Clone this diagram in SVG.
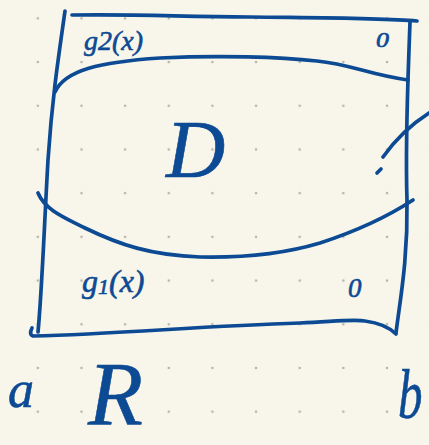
<svg xmlns="http://www.w3.org/2000/svg" width="429" height="445" viewBox="0 0 429 445">
<defs>
<pattern id="dots" patternUnits="userSpaceOnUse" x="16" y="-3.5" width="43.65" height="43.7">
<circle cx="21.8" cy="21.85" r="1.3" fill="#b5b3aa"/>
</pattern>
<style>
.ink{fill:none;stroke:#0d4a94;stroke-width:3.7;stroke-linecap:round;stroke-linejoin:round}
.t{fill:#0d4a94;stroke:#0d4a94;stroke-width:0.6;font-family:"Liberation Serif","DejaVu Serif",serif;font-style:italic}
</style>
</defs>
<rect width="429" height="445" fill="#f8f6eb"/>
<rect width="429" height="445" fill="url(#dots)"/>
<g id="rectangle-R">
<path class="ink" d="M65,11 C58,60 52,100 48,160 C44,230 42,290 38,332"/>
<path class="ink" d="M72,15 C150,14 180,17 250,17 C330,18 380,18 417,21"/>
<path class="ink" d="M410,22 C408,80 405,140 407,200 C408,260 400,300 396,333"/>
<path class="ink" d="M32,328 C30,332 30,335 33,336 C120,334 200,326 300,323 C340,321 355,319 365,321 C380,323 390,328 396,334"/>
</g>
<g id="region-D">
<path class="ink" d="M55,92 C65,70 100,62 160,58 C220,55 280,57 317,61 C350,64 370,75 408,80"/>
<path class="ink" d="M38,193 C45,210 65,218 85,228 C120,245 150,255 200,257 C250,258 290,252 320,243 C360,230 390,215 413,200"/>
<path class="ink" d="M383,157 C395,140 410,125 429,113"/>
<path class="ink" d="M377,173 L381,169"/>
</g>
<g id="labels">
<text class="t" x="84" y="50" font-size="28">g2(x)</text>
<text class="t" x="82" y="292" font-size="32">g<tspan font-size="22" dy="2">1</tspan><tspan dy="-2">(x)</tspan></text>
<text class="t" transform="translate(376,47) scale(1.3,1)" font-size="20">0</text>
<text class="t" x="348" y="297" font-size="27">0</text>
<text class="t" x="166" y="177" font-size="82">D</text>
<text class="t" x="8" y="407" font-size="52">a</text>
<text class="t" x="88" y="425" font-size="90">R</text>
<text class="t" transform="translate(398,418) scale(0.7,1)" font-size="70">b</text>
</g>
</svg>
